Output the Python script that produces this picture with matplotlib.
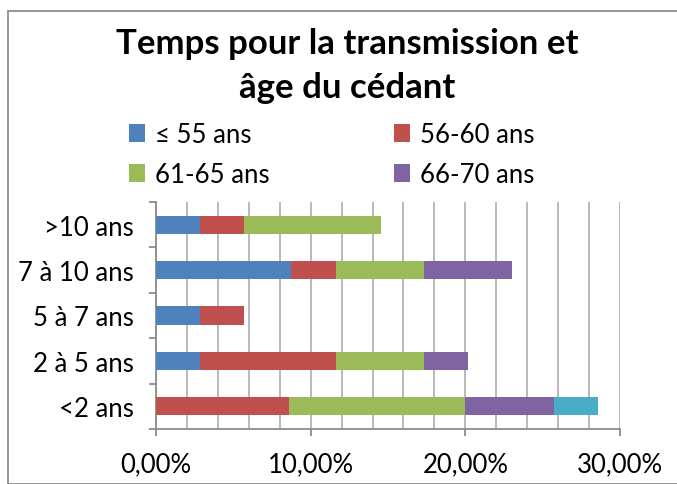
import matplotlib
matplotlib.use("Agg")
import matplotlib.pyplot as plt
from matplotlib.patches import Rectangle
from matplotlib.ticker import MultipleLocator, FuncFormatter
import numpy as np

plt.rcParams['font.family'] = ['Lato', 'DejaVu Sans']

categories = ["<2 ans", "2 à 5 ans", "5 à 7 ans", "7 à 10 ans", ">10 ans"]
series_names = ["≤ 55 ans", "56-60 ans", "61-65 ans", "66-70 ans", "> 70 ans"]
s_55 = [0.0, 2.86, 2.86, 8.75, 2.86]
s_56_60 = [8.57, 8.75, 2.86, 2.86, 2.86]
s_61_65 = [11.43, 5.71, 0.0, 5.71, 8.80]
s_66_70 = [5.71, 2.86, 0.0, 5.71, 0.0]
s_70 = [2.86, 0.0, 0.0, 0.0, 0.0]
colors = ["#4F81BD", "#C0504D", "#9BBB59", "#8064A2", "#4BACC6"]
title = "Temps pour la transmission et\nâge du cédant"

W, H = 677, 485
fig = plt.figure(figsize=(W / 100, H / 100), dpi=100)
fig.patches.append(Rectangle((8 / W, 0), 1.0, 1 - 12 / H, transform=fig.transFigure,
                             fill=False, edgecolor="#8C8C8C", linewidth=1.3))

ax = fig.add_axes([156 / W, 1 - 430 / H, (620 - 156) / W, (430 - 203) / H])
y = np.arange(len(categories))
left = np.zeros(len(categories))
handles = []
for i, (name, vals) in enumerate(zip(series_names, [s_55, s_56_60, s_61_65, s_66_70, s_70])):
    v = np.array(vals) / 100.0
    b = ax.barh(y, v, left=left, height=0.4, color=colors[i], zorder=3,
                label=name if i < 4 else "_nolegend_")
    left += v
    if i < 4:
        handles.append(b)

ax.set_xlim(0, 0.30)
ax.set_ylim(-0.5, len(categories) - 0.5)
ax.xaxis.set_major_locator(MultipleLocator(0.10))
ax.xaxis.set_minor_locator(MultipleLocator(0.02))
ax.xaxis.set_major_formatter(FuncFormatter(lambda v, p: f"{v*100:.2f}%".replace(".", ",")))
ax.grid(True, axis="x", which="both", color="#B3B3B3", linewidth=1.3, zorder=0)
ax.set_yticks(y)
ax.set_yticklabels(categories)
ax.set_yticks(np.arange(-0.5, len(categories)), minor=True)
ax.tick_params(axis="y", which="major", length=0, pad=16, labelsize=18.5)
ax.tick_params(axis="y", which="minor", length=5, color="#8C8C8C", width=1.3)
ax.tick_params(axis="x", which="major", length=5, color="#8C8C8C", width=1.3, labelsize=18.5, pad=11)
ax.tick_params(axis="x", which="minor", length=0)
for s in ["top", "right"]:
    ax.spines[s].set_visible(False)
for s in ["left", "bottom"]:
    ax.spines[s].set_color("#8C8C8C")
    ax.spines[s].set_linewidth(1.3)

fig.text(347 / W, 1 - 66 / H, title, ha="center", va="center", fontsize=25,
         fontweight="bold", linespacing=1.45)

# row-major legend order (matplotlib fills columns first)
order = [0, 2, 1, 3]
fig.legend(handles=[handles[k] for k in order], labels=[series_names[k] for k in order],
           ncol=2, loc="center",
           bbox_to_anchor=(332 / W, 1 - 155.5 / H), frameon=False, fontsize=18.5,
           handlelength=0.6, handleheight=0.7, handletextpad=0.4,
           columnspacing=4.85, labelspacing=0.62)

fig.savefig("out.png", dpi=100)
